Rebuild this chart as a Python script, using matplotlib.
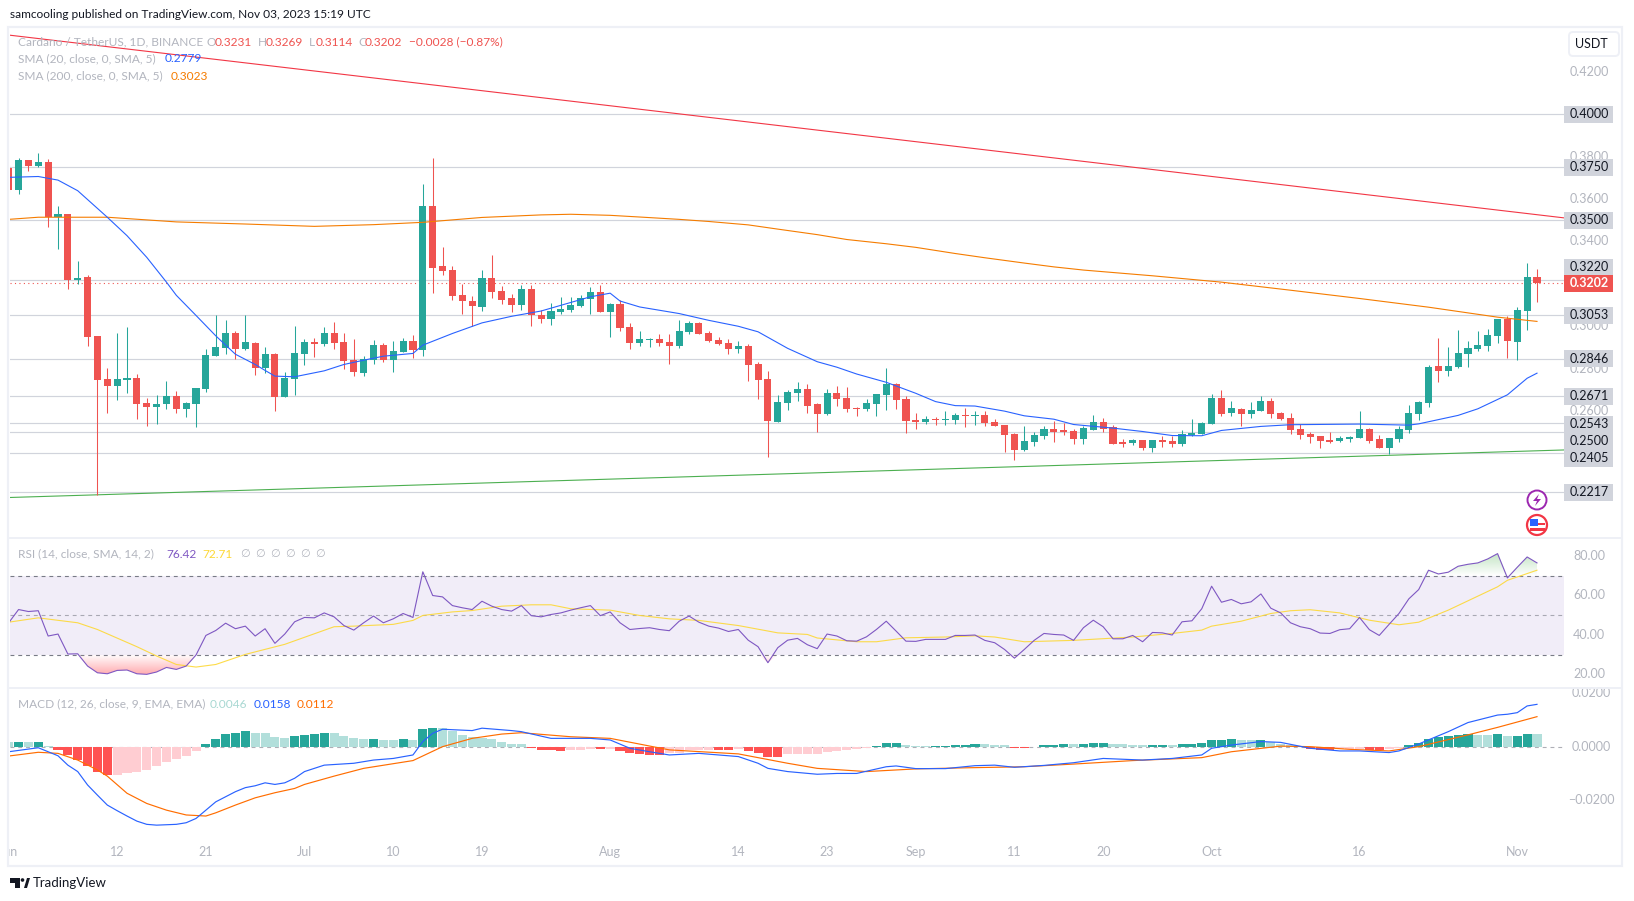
import numpy as np
import matplotlib
matplotlib.use("Agg")
import matplotlib.pyplot as plt
from matplotlib.patches import Circle, FancyBboxPatch, Polygon, Rectangle

W, H = 1634, 901
plt.rcParams["font.family"] = ["Lato", "DejaVu Sans"]

# daily candles, 1 Jun to 3 Nov 2023
opens = [.3747, .3641, .3785, .3757, .3776, .3513, .3531, .3220, .3231, .2953, .2751, .2718, .2746, .2755, .2638, .2619, .2633, .2671, .2609, .2633, .2704, .2859, .2897, .2967, .2892, .2920, .2802, .2868, .2666, .2751,
         .2868, .2925, .2915, .2967, .2925, .2840, .2779, .2840, .2911, .2840, .2878, .2930, .2887, .3568, .3283, .3264, .3146, .3118, .3090, .3226, .3165, .3132, .3099, .3174, .3052, .3033, .3066, .3076, .3094, .3127, .3160,
         .3066, .3104, .2996, .2920, .2934, .2939, .2925, .2906, .2972, .3014, .2967, .2934, .2920, .2892, .2906, .2821, .2751, .2548, .2638, .2685, .2704, .2633, .2586, .2685, .2661, .2614, .2609, .2633, .2675, .2727, .2656,
         .2558, .2548, .2562, .2558, .2558, .2581, .2576, .2581, .2548, .2534, .2492, .2416, .2454, .2482, .2515, .2510, .2506, .2470, .2512, .2550, .2526, .2456, .2451, .2465, .2427, .2465, .2460, .2446, .2489, .2493,
         .2540, .2663, .2592, .2611, .2587, .2602, .2649, .2592, .2569, .2517, .2493, .2484, .2465, .2460, .2470, .2475, .2517, .2470, .2427, .2470, .2512, .2587, .2639, .2813, .2790, .2809, .2870, .2893, .2908, .2955, .3035,
         .2926, .3072, .3231]
closes = [.3641, .3785, .3757, .3774, .3513, .3531, .3220, .3229, .2948, .2746, .2718, .2751, .2755, .2633, .2619, .2633, .2671, .2609, .2638, .2708, .2864, .2901, .2967, .2892, .2925, .2802, .2868, .2666, .2755, .2873,
          .2925, .2915, .2967, .2920, .2835, .2784, .2845, .2911, .2840, .2882, .2930, .2887, .3568, .3273, .3259, .3142, .3118, .3094, .3226, .3160, .3123, .3099, .3174, .3052, .3033, .3071, .3080, .3099, .3132, .3160, .3066,
          .3104, .2991, .2920, .2939, .2939, .2920, .2906, .2977, .3014, .2963, .2930, .2915, .2892, .2906, .2817, .2746, .2553, .2642, .2690, .2704, .2624, .2586, .2685, .2656, .2609, .2609, .2638, .2680, .2727, .2652, .2553,
          .2548, .2562, .2558, .2562, .2581, .2576, .2581, .2543, .2529, .2487, .2416, .2459, .2487, .2515, .2501, .2501, .2468, .2522, .2550, .2517, .2446, .2446, .2465, .2427, .2465, .2456, .2446, .2493, .2498, .2545,
          .2663, .2587, .2616, .2587, .2606, .2649, .2587, .2564, .2512, .2489, .2479, .2460, .2456, .2475, .2479, .2517, .2460, .2427, .2475, .2517, .2592, .2644, .2809, .2790, .2813, .2875, .2898, .2912, .2959, .3035, .2931,
          .3077, .3233, .3202]
highs = [.3760, .3793, .3785, .3818, .3790, .3568, .3531, .3309, .3240, .2953, .2802, .2968, .2997, .2774, .2661, .2675, .2741, .2694, .2642, .2708, .2892, .3052, .3029, .2977, .3052, .2925, .2901, .2873, .2784, .3000,
         .2939, .2944, .2996, .3019, .2967, .2939, .2859, .2934, .2920, .2930, .2944, .2958, .3672, .3794, .3375, .3283, .3201, .3142, .3264, .3335, .3189, .3151, .3193, .3193, .3076, .3109, .3137, .3137, .3146, .3184, .3193,
         .3109, .3123, .3014, .2977, .2944, .2963, .2963, .3029, .3024, .3019, .2977, .2948, .2939, .2930, .2916, .2831, .2788, .2675, .2699, .2737, .2727, .2638, .2704, .2718, .2713, .2619, .2656, .2680, .2802, .2732, .2671,
         .2591, .2576, .2572, .2600, .2591, .2614, .2600, .2600, .2562, .2534, .2496, .2529, .2501, .2529, .2553, .2543, .2515, .2530, .2583, .2569, .2536, .2470, .2470, .2465, .2465, .2484, .2484, .2512, .2564, .2550,
         .2682, .2700, .2649, .2616, .2644, .2672, .2663, .2597, .2592, .2540, .2503, .2484, .2503, .2484, .2484, .2602, .2522, .2489, .2475, .2531, .2630, .2649, .2818, .2945, .2903, .2983, .2931, .2978, .2988, .3035, .3049,
         .3091, .3298, .3269]
lows = [.3635, .3622, .3730, .3750, .3469, .3366, .3177, .3201, .2906, .2204, .2591, .2652, .2685, .2562, .2529, .2539, .2609, .2591, .2572, .2525, .2689, .2859, .2868, .2845, .2887, .2770, .2779, .2600, .2666, .2675,
        .2817, .2854, .2906, .2892, .2798, .2765, .2765, .2821, .2831, .2784, .2878, .2850, .2859, .3159, .3240, .3123, .3057, .3000, .3071, .3132, .3104, .3066, .3076, .3000, .3014, .3005, .3057, .3066, .3090, .3057, .3066,
        .2948, .2977, .2892, .2906, .2901, .2906, .2821, .2897, .2963, .2963, .2925, .2911, .2868, .2873, .2741, .2656, .2383, .2548, .2605, .2647, .2591, .2501, .2581, .2624, .2595, .2576, .2600, .2576, .2605, .2609, .2496,
        .2515, .2539, .2534, .2534, .2539, .2525, .2534, .2529, .2529, .2406, .2369, .2412, .2435, .2468, .2454, .2487, .2445, .2446, .2512, .2503, .2446, .2432, .2441, .2418, .2409, .2432, .2432, .2437, .2484, .2493,
        .2540, .2578, .2578, .2531, .2569, .2602, .2569, .2559, .2493, .2470, .2451, .2427, .2451, .2456, .2456, .2475, .2451, .2427, .2399, .2456, .2498, .2559, .2620, .2738, .2766, .2804, .2809, .2884, .2884, .2922, .2851,
        .2842, .2983, .3114]

# moving averages, read at the bends only
sma20_x = [0, 3, 5, 7, 10, 12, 14, 16, 17, 19, 21, 23, 25, 26, 27, 29, 32, 34, 36, 38, 41, 42, 45, 48, 51, 54, 59, 61, 62, 64, 68, 71, 74, 76, 79, 82, 84, 86, 89, 92, 94, 96, 98, 101, 103, 106, 108, 112, 115, 118, 121, 123, 127, 130, 137, 142, 143, 147, 149, 152, 154, 155]
sma20_y = [.3702, .3706, .3689, .3639, .3514, .3427, .3325, .3208, .3146, .3051, .2955, .2868, .2820, .2792, .2765, .2762, .2790, .2820, .2840, .2859, .2872, .2911, .2966, .3016, .3047, .3072, .3139, .3156, .3119, .3091, .3060, .3028, .3000, .2974, .2896, .2833, .2807, .2775, .2736, .2684, .2645, .2626, .2624, .2600, .2578, .2562, .2537, .2520, .2504, .2485, .2484, .2509, .2528, .2536, .2539, .2534, .2540, .2580, .2611, .2677, .2755, .2779]
sma200_x = [0, 3, 10, 17, 24, 31, 37, 42, 48, 54, 57, 61, 64, 68, 71, 75, 78, 82, 85, 89, 92, 96, 99, 103, 106, 109, 116, 123, 130, 137, 144, 151, 155]
sma200_y = [.3504, .3514, .3514, .3492, .3482, .3471, .3479, .3490, .3513, .3525, .3528, .3523, .3515, .3504, .3494, .3478, .3458, .3432, .3409, .3389, .3372, .3343, .3323, .3298, .3280, .3265, .3238, .3208, .3170, .3131, .3090, .3043, .3023]

# hand drawn trend lines and horizontal levels
trend_red_y = [.4372, .3511]
trend_green_y = [.2193, .2417]
levels = [.4000, .3750, .3500, .3220, .3053, .2846, .2671, .2543, .2500, .2405, .2217]
level_label_y = [.4000, .3750, .3500, .3278, .3053, .2846, .2671, .2538, .2458, .2378, .2217]
level_labels = ["0.4000", "0.3750", "0.3500", "0.3220", "0.3053", "0.2846", "0.2671", "0.2543", "0.2500", "0.2405", "0.2217"]
last_price = .3202
price_ticks = [.42, .38, .36, .34, .30, .28, .26]

rsi = [46.1, 52.8, 51.8, 52.2, 39.4, 40.4, 30.3, 30.4, 24.2, 20.8, 20.3, 22.0, 22.2, 20.3, 20.0, 21.2, 23.5, 22.5, 24.2, 29.8, 39.7, 42.2, 45.9, 43.1, 44.4, 39.4, 43.1, 35.7, 40.4, 46.6,
       48.8, 48.6, 51.1, 49.1, 44.7, 42.4, 46.1, 49.5, 46.1, 48.1, 50.8, 48.8, 71.9, 59.9, 59.2, 54.8, 53.7, 52.8, 57.0, 54.5, 52.8, 52.0, 54.8, 49.7, 49.1, 50.3, 51.1, 52.5, 53.7, 54.8, 49.7,
       51.6, 46.1, 42.7, 43.2, 43.6, 42.7, 42.1, 46.9, 49.5, 46.4, 44.4, 43.4, 41.7, 42.7, 37.3, 34.0, 25.9, 33.5, 37.3, 38.2, 35.0, 33.0, 40.4, 39.4, 37.0, 36.8, 39.0, 42.7, 46.9, 41.9, 36.8,
       36.7, 37.7, 37.7, 37.7, 39.7, 39.7, 39.9, 37.2, 36.0, 32.6, 28.2, 32.6, 37.2, 40.7, 40.2, 39.9, 37.2, 43.6, 47.4, 44.1, 38.0, 38.0, 39.7, 36.5, 41.2, 41.0, 39.9, 46.6, 47.1, 53.2,
       64.6, 56.5, 57.9, 55.7, 56.7, 60.7, 53.5, 51.1, 46.1, 44.1, 43.1, 40.9, 40.7, 42.6, 43.1, 48.8, 42.6, 39.7, 45.3, 50.8, 58.2, 62.9, 72.7, 70.8, 71.7, 74.7, 75.7, 76.4, 78.4, 81.1, 68.8,
       74.2, 79.4, 76.4]
rsi_ma_x = [0, 3, 7, 9, 13, 15, 17, 19, 21, 24, 28, 33, 35, 39, 41, 42, 45, 47, 50, 53, 55, 57, 61, 64, 67, 70, 74, 78, 81, 82, 86, 88, 91, 95, 98, 100, 103, 108, 114, 118, 121, 122, 125, 128, 130, 132, 135, 138, 141, 143, 146, 151, 152, 155]
rsi_ma_y = [46.4, 48.6, 46.1, 42.7, 34.0, 29.3, 25.0, 23.7, 25.0, 30.1, 35.2, 44.1, 44.4, 45.3, 47.3, 49.8, 51.6, 52.3, 54.5, 55.2, 55.2, 53.2, 52.5, 49.8, 48.1, 47.3, 44.7, 41.0, 40.2, 38.4, 36.5, 36.5, 38.5, 38.9, 39.5, 38.9, 36.5, 37.2, 38.9, 40.7, 42.4, 44.4, 46.9, 50.8, 52.2, 52.7, 51.1, 47.4, 45.1, 46.4, 52.5, 64.3, 67.6, 72.7]

macd_hist = [.0017, .0017, .0017, .0017, .0004, -.0012, -.0031, -.0050, -.0072, -.0095, -.0106, -.0106, -.0100, -.0096, -.0087, -.0072, -.0057, -.0047, -.0035, -.0016, .0010, .0029, .0047, .0052, .0059, .0052, .0052, .0037, .0032, .0041,
             .0044, .0049, .0051, .0051, .0041, .0032, .0029, .0029, .0025, .0025, .0029, .0025, .0066, .0070, .0070, .0060, .0044, .0037, .0032, .0029, .0017, .0010, .0010, -.0005, -.0012, -.0012, -.0016, -.0012, -.0012, -.0009, -.0009,
             -.0009, -.0016, -.0024, -.0027, -.0031, -.0031, -.0024, -.0024, -.0012, -.0012, -.0012, -.0012, -.0012, -.0009, -.0016, -.0024, -.0039, -.0039, -.0027, -.0027, -.0027, -.0027, -.0020, -.0016, -.0012, -.0009, -.0005, .0002, .0014, .0014, .0006,
             .0002, .0002, .0002, .0002, .0006, .0006, .0010, .0010, .0006, .0006, -.0005, -.0005, -.0001, .0006, .0006, .0010, .0010, .0010, .0014, .0014, .0010, .0010, .0006, .0006, .0006, .0006, .0006, .0010, .0010, .0014,
             .0025, .0025, .0029, .0025, .0025, .0025, .0017, .0010, .0006, -.0001, -.0009, -.0012, -.0012, -.0009, -.0009, -.0009, -.0012, -.0012, -.0009, -.0005, .0006, .0014, .0029, .0036, .0040, .0044, .0047, .0044, .0044, .0047, .0040,
             .0040, .0047, .0046]
# 1 where the bar is moving away from zero (dark shade), 0 where it shrinks (pale shade)
hist_strong = [0, 1, 0, 1, 0, 1, 1, 1, 1, 1, 1, 0, 0, 0, 0, 0, 0, 0, 0, 0, 1, 1, 1, 1, 1, 0, 0, 0, 0, 1,
               1, 1, 1, 0, 0, 0, 0, 1, 0, 0, 1, 0, 1, 1, 0, 0, 0, 0, 0, 0, 0, 0, 0, 1, 1, 1, 1, 0, 0, 0, 1,
               0, 1, 1, 1, 1, 1, 0, 0, 0, 0, 0, 1, 1, 0, 1, 1, 1, 1, 0, 0, 0, 0, 0, 0, 0, 0, 0, 1, 1, 1, 0,
               0, 0, 1, 1, 1, 1, 1, 0, 0, 0, 1, 1, 0, 1, 1, 1, 0, 1, 1, 1, 0, 0, 0, 0, 1, 1, 0, 1, 1, 1,
               1, 1, 1, 0, 0, 1, 0, 0, 0, 0, 1, 1, 1, 0, 0, 0, 1, 1, 0, 0, 1, 1, 1, 1, 1, 1, 1, 0, 0, 1, 0,
               1, 1, 0]
macd_x = [0, 3, 5, 6, 7, 8, 9, 10, 11, 12, 13, 14, 15, 17, 18, 19, 20, 21, 22, 23, 24, 25, 26, 27, 28, 29, 30, 32, 35, 37, 39, 41, 42, 43, 44, 47, 48, 51, 52, 55, 59, 61, 63, 65, 67, 70, 74, 76, 77, 79, 82, 84, 86, 89, 90, 92, 95, 98, 100, 102, 105, 108, 111, 115, 118, 121, 122, 124, 127, 129, 132, 135, 137, 140, 141, 143, 146, 148, 151, 152, 153, 154, 155]
macd_y = [-.0019, -.0004, -.0034, -.0069, -.0093, -.0143, -.0181, -.0218, -.0239, -.0259, -.0278, -.0290, -.0293, -.0290, -.0284, -.0268, -.0237, -.0206, -.0187, -.0168, -.0153, -.0146, -.0135, -.0141, -.0135, -.0118, -.0093, -.0069, -.0062, -.0050, -.0044, -.0031, .0019, .0050, .0065, .0060, .0069, .0060, .0056, .0031, .0031, .0025, -.0006, -.0019, -.0031, -.0025, -.0037, -.0062, -.0081, -.0093, -.0103, -.0100, -.0100, -.0075, -.0072, -.0082, -.0082, -.0071, -.0069, -.0077, -.0070, -.0060, -.0044, -.0050, -.0044, -.0031, -.0006, .0006, .0019, .0016, -.0006, -.0016, -.0016, -.0022, -.0016, .0010, .0056, .0090, .0118, .0121, .0127, .0152, .0158]
signal_x = [0, 3, 5, 7, 9, 10, 12, 14, 16, 18, 20, 21, 23, 25, 27, 29, 30, 33, 36, 41, 44, 47, 50, 52, 57, 61, 67, 74, 79, 82, 87, 92, 97, 103, 108, 114, 121, 124, 129, 132, 136, 140, 143, 148, 151, 155]
signal_y = [-.0035, -.0021, -.0025, -.0050, -.0087, -.0110, -.0174, -.0212, -.0237, -.0255, -.0259, -.0247, -.0218, -.0191, -.0172, -.0156, -.0141, -.0110, -.0081, -.0052, 0, .0031, .0047, .0052, .0037, .0031, -.0012, -.0027, -.0062, -.0081, -.0093, -.0083, -.0079, -.0075, -.0065, -.0052, -.0041, -.0019, .0002, 0, -.0010, -.0016, 0, .0044, .0072, .0112]

time_tick_x = [0, 11, 20, 30, 39, 48, 61, 74, 83, 92, 102, 111, 122, 137, 153]
time_tick_labels = ["Jun", "12", "21", "Jul", "10", "19", "Aug", "14", "23", "Sep", "11", "20", "Oct", "16", "Nov"]

RED = "#ef5350"
TEAL = "#26a69a"
GREY = "#b2b5be"
LEVEL = "#d1d4dc"
FRAME = "#eef0f6"
PX_LEFT, PX_RIGHT = 10, 1564
X_ZERO, X_STEP = 8.7, 9.86
FS = 9  # scale labels
FS_LEG = 8.55  # title and legend rows


def pane(top, bottom, ylim):
    ax = fig.add_axes([PX_LEFT / W, 1 - bottom / H, (PX_RIGHT - PX_LEFT) / W, (bottom - top) / H])
    ax.set_xlim((PX_LEFT - X_ZERO) / X_STEP, (PX_RIGHT - X_ZERO) / X_STEP)
    ax.set_ylim(*ylim)
    ax.axis("off")
    ax.patch.set_alpha(0)
    return ax


def side_label(ax, y, text, color, x_off=1589, **kw):
    # text in the scale area, x in figure pixels, y in the pane's data units
    trans = ax.get_yaxis_transform()
    x = (x_off - PX_LEFT) / (PX_RIGHT - PX_LEFT)
    ax.text(x, y, text, transform=trans, color=color, ha="center", va="center", clip_on=False, **kw)


fig = plt.figure(figsize=(W / 100, H / 100), dpi=100, facecolor="white")

# price pane
ax = pane(28, 538, (.2002, .4406))
idx = np.arange(len(opens))
o, c, hi, lo = map(np.array, (opens, closes, highs, lows))
colors = [TEAL if b >= a else RED for a, b in zip(o, c)]
for lev in levels:
    ax.axhline(lev, color=LEVEL, lw=0.85, zorder=1)
ax.axhline(last_price, color=RED, lw=0.8, ls=(0, (1, 3)), zorder=1.5)
ax.vlines(idx, lo, hi, colors=colors, lw=0.75, zorder=3)
ax.bar(idx, np.maximum(np.abs(c - o), .0003), bottom=np.minimum(o, c), width=0.72, color=colors, lw=0, zorder=3)
ax.plot(sma200_x, sma200_y, color="#f57c00", lw=0.8, zorder=4)
ax.plot(sma20_x, sma20_y, color="#2962ff", lw=0.8, zorder=4)
ax.plot(ax.get_xlim(), trend_red_y, color="#f23645", lw=0.8, zorder=4)
ax.plot(ax.get_xlim(), trend_green_y, color="#4caf50", lw=0.8, zorder=2)

for t in price_ticks:
    side_label(ax, t, f"{t:.4f}", GREY, fontsize=FS, zorder=5)
for y, label in zip(level_label_y, level_labels):
    ax.add_patch(Rectangle((1.0, y - .004), 49 / (PX_RIGHT - PX_LEFT), .008, transform=ax.get_yaxis_transform(),
                           color=LEVEL, lw=0, clip_on=False, zorder=6))
    side_label(ax, y, label, "#131722", fontsize=FS, zorder=7)
ax.add_patch(Rectangle((1.0, last_price - .004), 49 / (PX_RIGHT - PX_LEFT), .008, transform=ax.get_yaxis_transform(),
                       color=RED, lw=0, clip_on=False, zorder=8))
side_label(ax, last_price, f"{last_price:.4f}", "white", fontsize=FS, fontweight="bold", zorder=9)

# RSI pane
ax2 = pane(538, 688, (13.1, 89))
ax2.axhspan(30, 70, color="#7e57c2", alpha=.1, lw=0, zorder=1)
ax2.axhline(70, color="#787b86", lw=0.8, ls=(0, (3.5, 3.5)), zorder=2)
ax2.axhline(50, color="#787b86", lw=0.8, ls=(0, (3.5, 3.5)), alpha=.6, zorder=2)
ax2.axhline(30, color="#787b86", lw=0.8, ls=(0, (3.5, 3.5)), zorder=2)
rsi_arr = np.array(rsi)
low_band = ax2.fill_between(idx, np.minimum(rsi_arr, 30), 30, facecolor="none", lw=0)
high_band = ax2.fill_between(idx, 70, np.maximum(rsi_arr, 70), facecolor="none", lw=0)
ramp = np.linspace(0, 1, 64)[:, None]
pink = np.dstack([np.full((64, 1), 1.0), np.full((64, 1), .60), np.full((64, 1), .62), ramp * .8])
green = np.dstack([np.full((64, 1), .30), np.full((64, 1), .69), np.full((64, 1), .31), ramp[::-1] * .35])
im = ax2.imshow(pink, extent=(0, 155, 30, 20), aspect="auto", zorder=2, origin="lower")
im.set_clip_path(low_band.get_paths()[0], ax2.transData)
im = ax2.imshow(green, extent=(0, 155, 70, 82), aspect="auto", zorder=2, origin="upper")
im.set_clip_path(high_band.get_paths()[0], ax2.transData)
ax2.set_xlim(ax.get_xlim())
ax2.set_ylim(13.1, 89)
ax2.plot(rsi_ma_x, rsi_ma_y, color="#fdd835", lw=0.8, alpha=.9, zorder=3)
ax2.plot(idx, rsi, color="#7e57c2", lw=0.8, zorder=4)
for t in [80, 60, 40, 20]:
    side_label(ax2, t, f"{t:.2f}", GREY, x_off=1589, fontsize=FS)

# MACD pane
ax3 = pane(688, 838, (-.0341, .0219))
hist_col = []
for v, s in zip(macd_hist, hist_strong):
    if v >= 0:
        hist_col.append(TEAL if s else "#b2dfdb")
    else:
        hist_col.append("#ff5252" if s else "#ffcdd2")
ax3.axhline(0, color="#787b86", lw=0.8, ls=(0, (3.5, 3.5)), alpha=.6, zorder=1)
ax3.bar(idx, macd_hist, width=.92, color=hist_col, lw=0, zorder=2)
ax3.plot(signal_x, signal_y, color="#ff6d00", lw=0.85, zorder=3)
ax3.plot(macd_x, macd_y, color="#2962ff", lw=0.85, zorder=4)
for t, txt in [(.02, "0.0200"), (0, "0.0000"), (-.02, "\u22120.0200")]:
    side_label(ax3, t, txt, GREY, x_off=1591, fontsize=FS)

for t, label in zip(time_tick_x, time_tick_labels):
    ax3.annotate(label, xy=(t, 0), xycoords=ax3.get_xaxis_transform(), xytext=(0, -14), textcoords="offset pixels",
                 ha="center", va="center", color=GREY, fontsize=FS, annotation_clip=False)

# frame, legends and icons on a full figure layer in pixel coordinates
top = fig.add_axes([0, 0, 1, 1], zorder=10)
top.set_xlim(0, W)
top.set_ylim(H, 0)
top.axis("off")
top.patch.set_alpha(0)
# white mask so the "Jun" tick label is cut by the left frame
top.add_patch(Rectangle((0, 840), 8, 25, color="white", lw=0))
top.add_patch(Rectangle((8.5, 26.5), 1614, 839, fill=False, ec=FRAME, lw=1.6))
top.plot([9, 1622], [538, 538], color=FRAME, lw=1.4)
top.plot([9, 1622], [688, 688], color=FRAME, lw=1.4)

top.text(10, 14.5, "samcooling published on TradingView.com, Nov 03, 2023 15:19 UTC", color="#131722", fontsize=FS_LEG, va="center")


def legend_row(y, parts):
    for x, s, col in parts:
        top.text(x, y, s, color=col, fontsize=FS_LEG, va="center")


legend_row(42, [(18, "Cardano / TetherUS, 1D, BINANCE", GREY), (207, "O", GREY), (215, "0.3231", RED), (258, "H", GREY), (266, "0.3269", RED),
                (309, "L", GREY), (316, "0.3114", RED), (358, "C", GREY), (365, "0.3202", RED), (409, "\u22120.0028 (\u22120.87%)", RED)])
legend_row(59, [(18, "SMA (20, close, 0, SMA, 5)", GREY), (165, "0.2779", "#2962ff")])
legend_row(76, [(18, "SMA (200, close, 0, SMA, 5)", GREY), (171, "0.3023", "#f57c00")])
legend_row(554, [(18, "RSI (14, close, SMA, 14, 2)", GREY), (166, "76.42", "#7e57c2"), (202, "72.71", "#fdd835")])
for i in range(6):
    top.text(240 + 15 * i, 554, "\u2205", color=GREY, fontsize=8, va="center", family="DejaVu Sans")
legend_row(704, [(18, "MACD (12, 26, close, 9, EMA, EMA)", GREY), (210, "0.0046", "#a8d8d2"), (254, "0.0158", "#2962ff"), (296.5, "0.0112", "#ff6d00")])

top.add_patch(FancyBboxPatch((1569, 32), 50, 24, boxstyle="round,pad=0,rounding_size=4", fc="white", ec=FRAME, lw=1.4))
top.text(1591, 44, "USDT", color="#131722", fontsize=FS, ha="center", va="center")

# lightning and flag badges
top.add_patch(Circle((1537, 500), 9.5, fc="white", ec="#9c27b0", lw=1.4))
top.add_patch(Polygon([(1539, 494), (1533, 501), (1537, 501), (1535, 506), (1541, 499), (1537, 499)], color="#9c27b0", lw=0))
top.add_patch(Circle((1537, 525), 10, fc="white", ec="#f23645", lw=1.6))
top.add_patch(Rectangle((1530, 519), 8, 7, color="#2962ff", lw=0))
top.add_patch(Rectangle((1538, 523), 7, 2, color="#f23645", lw=0))
top.add_patch(Rectangle((1530, 528), 15, 2.5, color="#f23645", lw=0))

# TradingView mark
top.add_patch(Polygon([(10, 878), (20, 878), (20, 888), (15, 888), (15, 883), (10, 883)], color="#131722", lw=0))
top.add_patch(Circle((22.5, 880), 1.8, color="#131722", lw=0))
top.add_patch(Polygon([(24, 888), (27, 878), (30, 878), (27, 888)], color="#131722", lw=0))
top.text(33, 883, "TradingView", color="#131722", fontsize=9.5, va="center")

fig.savefig("out.png", dpi=100)
